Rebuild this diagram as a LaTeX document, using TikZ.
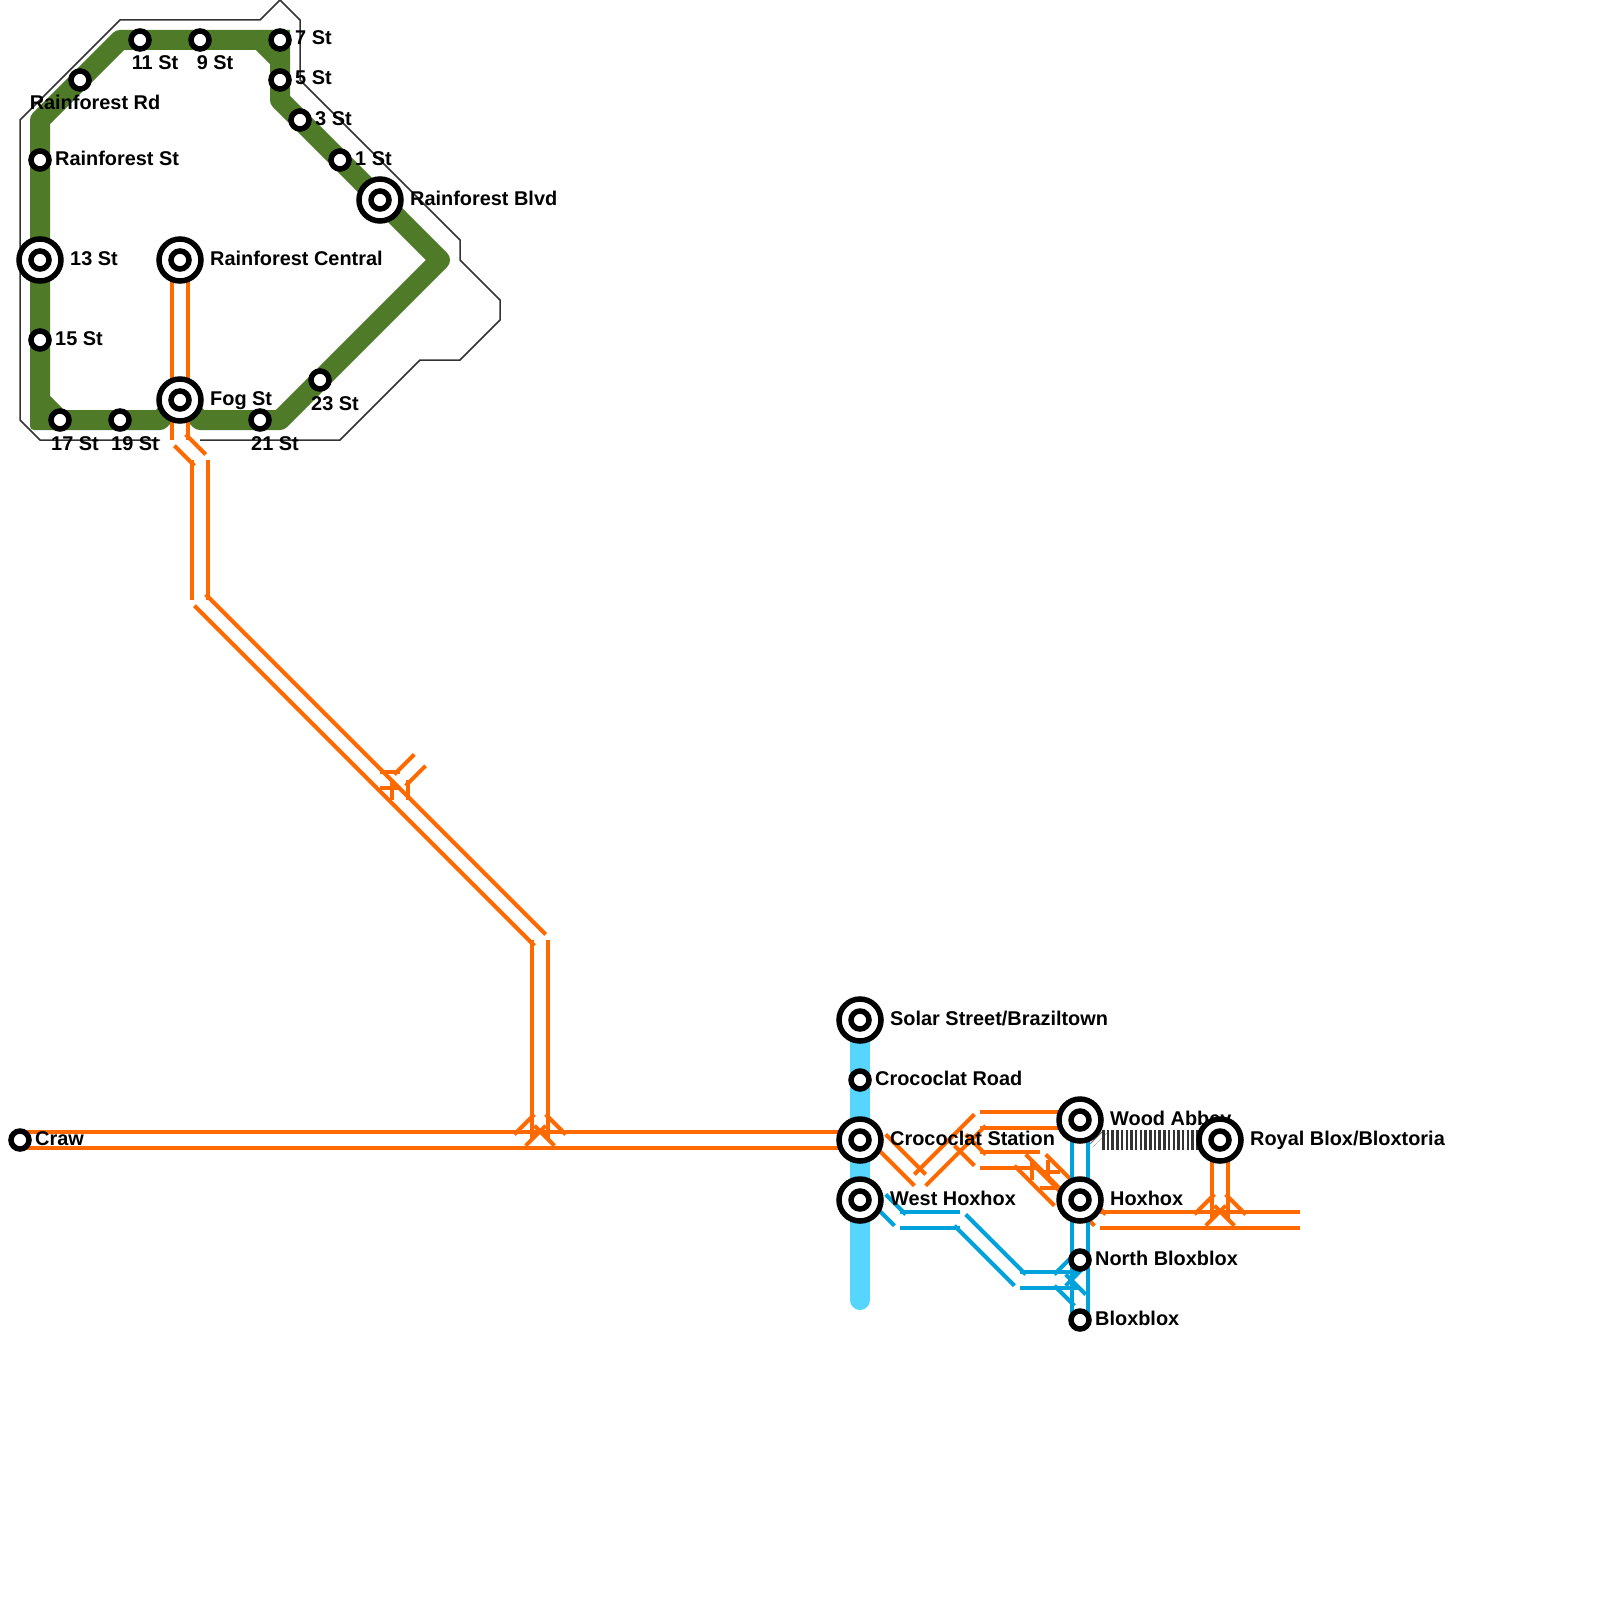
\documentclass[tikz,border=0pt]{standalone}
\usepackage{fontspec}
\setmainfont{Liberation Sans}
\usetikzlibrary{calc}
\definecolor{fern}{HTML}{4F7A28}
\definecolor{tang}{HTML}{FF6A00}
\definecolor{bluel}{HTML}{00A2DC}
\definecolor{skyl}{HTML}{56D6FF}
\definecolor{edgeg}{HTML}{333333}
\pgfdeclarelayer{lines}
\pgfdeclarelayer{labels}
\pgfsetlayers{lines,labels,main}
\tikzset{
  greenline/.style={draw=fern,line width=20pt,line join=round,line cap=round},
  skyline/.style={draw=skyl,line width=20pt,line cap=round},
  outline/.style={draw=edgeg,line width=1.5pt,line join=miter},
  hatch/.style={draw=edgeg,line width=20pt,dash pattern=on 2.5pt off 2.2pt},
  hatchfaint/.style={draw=edgeg!70,line width=20pt,dash pattern=on 1pt off 3.7pt},
  orangeline/.style={draw=tang,line width=4pt},
  blueline/.style={draw=bluel,line width=4pt},
  ringbig/.style={circle,draw=black,fill=white,line width=5.5pt,minimum size=42pt,inner sep=0pt},
  ringsmall/.style={circle,draw=black,fill=white,line width=5.5pt,minimum size=18pt,inner sep=0pt},
  stationname/.style={font=\fontsize{19.9}{20}\selectfont\bfseries,inner sep=0pt,text=black},
  eastname/.style={stationname,anchor=base west},
  midname/.style={stationname,anchor=base}
}
% a pair of parallel lines 8 away on either side of the segment a--b
\newcommand{\pairline}[3]{%
  \draw[#1] ($(#2)!8pt!90:(#3)$) -- ($(#3)!8pt!-90:(#2)$);
  \draw[#1] ($(#2)!8pt!-90:(#3)$) -- ($(#3)!8pt!90:(#2)$);}
\newcommand{\bigstation}[2]{\node[ringbig] (#1) at #2 {}; \node[ringsmall] (#1in) at #2 {};}
\begin{document}
\begin{tikzpicture}[x=1pt,y=-1pt]
\useasboundingbox (0,0) rectangle (1600,1600);
% ---- stations
\node[ringsmall] (st11) at (140,40) {};
\node[ringsmall] (st9) at (200,40) {};
\node[ringsmall] (st7) at (280,40) {};
\node[ringsmall] (st5) at (280,80) {};
\node[ringsmall] (st3) at (300,120) {};
\node[ringsmall] (st1) at (340,160) {};
\bigstation{blvd}{(380,200)}
\node[ringsmall] (st23) at (320,380) {};
\node[ringsmall] (st21) at (260,420) {};
\bigstation{fog}{(180,400)}
\node[ringsmall] (st19) at (120,420) {};
\node[ringsmall] (st17) at (60,420) {};
\node[ringsmall] (st15) at (40,340) {};
\bigstation{stxiii}{(40,260)}
\node[ringsmall] (rfst) at (40,160) {};
\node[ringsmall] (rfrd) at (80,80) {};
\bigstation{central}{(180,260)}
\node[ringsmall] (craw) at (20,1140) {};
\bigstation{solar}{(860,1020)}
\node[ringsmall] (croad) at (860,1080) {};
\bigstation{cstat}{(860,1140)}
\bigstation{west}{(860,1200)}
\bigstation{wood}{(1080,1120)}
\bigstation{hox}{(1080,1200)}
\node[ringsmall] (nblox) at (1080,1260) {};
\node[ringsmall] (blox) at (1080,1320) {};
\bigstation{royal}{(1220,1140)}
% ---- way points
\coordinate (oa) at (120,20);
\coordinate (ob) at (260,20);
\coordinate (oc) at (280,0);
\coordinate (od) at (300,20);
\coordinate (oe) at (300,80);
\coordinate (of) at (460,240);
\coordinate (og) at (460,260);
\coordinate (oh) at (500,300);
\coordinate (oi) at (500,320);
\coordinate (oj) at (460,360);
\coordinate (ok) at (420,360);
\coordinate (ol) at (340,440);
\coordinate (om) at (200,440);
\coordinate (on) at (160,440);
\coordinate (oo) at (40,440);
\coordinate (op) at (20,420);
\coordinate (oq) at (20,120);
\coordinate (ga) at (160,420);
\coordinate (gc) at (40,400);
\coordinate (gd) at (40,120);
\coordinate (ge) at (120,40);
\coordinate (gf) at (260,40);
\coordinate (gh) at (280,60);
\coordinate (gi) at (280,100);
\coordinate (gj) at (440,260);
\coordinate (gk) at (280,420);
\coordinate (gl) at (200,420);
\coordinate (aa) at (180,440);
\coordinate (ab) at (200,460);
\coordinate (ac) at (200,600);
\coordinate (ad) at (540,940);
\coordinate (ae) at (540,1120);
\coordinate (aex) at (540,1140);
\coordinate (af) at (520,1140);
\coordinate (ag) at (560,1140);
\coordinate (sa) at (420,760);
\coordinate (sb) at (400,780);
\coordinate (sc) at (380,780);
\coordinate (sd) at (400,800);
\coordinate (ba) at (880,1140);
\coordinate (bb) at (920,1180);
\coordinate (bc) at (980,1120);
\coordinate (bd) at (960,1140);
\coordinate (be) at (980,1160);
\coordinate (bf) at (1020,1160);
\coordinate (bg) at (1060,1200);
\coordinate (bh) at (1040,1160);
\coordinate (bi) at (1040,1180);
\coordinate (bj) at (1060,1180);
\coordinate (ca) at (1100,1220);
\coordinate (cb) at (1300,1220);
\coordinate (cc) at (1220,1200);
\coordinate (ccx) at (1220,1220);
\coordinate (cd) at (1200,1220);
\coordinate (ce) at (1240,1220);
\coordinate (da) at (880,1200);
\coordinate (db) at (900,1220);
\coordinate (dc) at (960,1220);
\coordinate (dd) at (1020,1280);
\coordinate (de) at (1060,1280);
\coordinate (dex) at (1080,1280);
\coordinate (df) at (1080,1300);
\coordinate (ea) at (1100,1140);
\coordinate (eb) at (1102,1140);
\coordinate (sk) at (860,1300);
% ---- lines
\begin{pgfonlayer}{lines}
\draw[outline] (om) -- (ol) -- (ok) -- (oj) -- (oi) -- (oh) -- (og) -- (of) -- (oe) -- (od) -- (oc) -- (ob) -- (oa) -- (oq) -- (op) -- (oo) -- (on);
\draw[skyline] (solar.center) -- (sk);
\draw[greenline] (fog.center) -- (ga) -- (st17.center) -- (gc) -- (gd) -- (ge) -- (gf) -- (gh) -- (gi) -- (gj) -- (gk) -- (gl) -- (fog.center);
\fill[fern] (30,400) -- (30,426) .. controls (30,428.5) and (31.5,430) .. (34,430) -- (60,430) -- (60,410) -- cycle;
\fill[fern] (260,30) -- (290,30) -- (290,60) -- (270,60) -- cycle;
% hatched link
\draw[hatchfaint] (wood.center) -- (ea);
\draw[hatch] (eb) -- (royal.center);
% orange
\pairline{orangeline}{central.center}{aa}
\pairline{orangeline}{aa}{ab}
\pairline{orangeline}{ab}{ac}
\pairline{orangeline}{ac}{ad}
\pairline{orangeline}{ad}{aex}
\pairline{orangeline}{ae}{af}
\pairline{orangeline}{ae}{ag}
\pairline{orangeline}{sa}{sb}
\pairline{orangeline}{sb}{sc}
\pairline{orangeline}{sb}{sd}
\pairline{orangeline}{craw.center}{cstat.center}
\pairline{orangeline}{ba}{bb}
\pairline{orangeline}{bb}{bc}
\pairline{orangeline}{bc}{wood.center}
\pairline{orangeline}{bd}{be}
\pairline{orangeline}{be}{bh}
\pairline{orangeline}{bf}{bg}
\pairline{orangeline}{bh}{hox.center}
\pairline{orangeline}{bh}{bi}
\pairline{orangeline}{bi}{bj}
\pairline{orangeline}{hox.center}{ca}
\pairline{orangeline}{ca}{cb}
\pairline{orangeline}{royal.center}{ccx}
\pairline{orangeline}{cc}{cd}
\pairline{orangeline}{cc}{ce}
% blue
\pairline{blueline}{wood.center}{blox.center}
\pairline{blueline}{da}{db}
\pairline{blueline}{db}{dc}
\pairline{blueline}{dc}{dd}
\pairline{blueline}{dd}{dex}
\pairline{blueline}{de}{nblox.center}
\pairline{blueline}{de}{df}
\end{pgfonlayer}
% ---- labels
\begin{pgfonlayer}{labels}
\node[midname] (lxi) at (155,70) {11 St};
\node[midname] (lix) at (215,70) {9 St};
\node[eastname] (lvii) at (295,45) {7 St};
\node[eastname] (lv) at (295,85) {5 St};
\node[eastname] (liii) at (315,125) {3 St};
\node[eastname] (li) at (355,165) {1 St};
\node[eastname] (lblvd) at (410,205) {Rainforest Blvd};
\node[midname] (lxxiii) at (335,410) {23 St};
\node[midname] (lxxi) at (275,450) {21 St};
\node[eastname] (lfog) at (210,405) {Fog St};
\node[midname] (lxix) at (135,450) {19 St};
\node[midname] (lxvii) at (75,450) {17 St};
\node[eastname] (lxv) at (55,345) {15 St};
\node[eastname] (lxiii) at (70,265) {13 St};
\node[eastname] (lrfst) at (55,165) {Rainforest St};
\node[midname] (lrfrd) at (95,110) {Rainforest Rd};
\node[eastname] (lcentral) at (210,265) {Rainforest Central};
\node[eastname] (lcraw) at (35,1145) {Craw};
\node[eastname] (lsolar) at (890,1025) {Solar Street/Braziltown};
\node[eastname] (lcroad) at (875,1085) {Crococlat Road};
\node[eastname] (lcstat) at (890,1145) {Crococlat Station};
\node[eastname] (lwest) at (890,1205) {West Hoxhox};
\node[eastname] (lwood) at (1110,1125) {Wood Abbey};
\node[eastname] (lhox) at (1110,1205) {Hoxhox};
\node[eastname] (lnblox) at (1095,1265) {North Bloxblox};
\node[eastname] (lblox) at (1095,1325) {Bloxblox};
\node[eastname] (lroyal) at (1250,1145) {Royal Blox/Bloxtoria};
\end{pgfonlayer}
\end{tikzpicture}
\end{document}
